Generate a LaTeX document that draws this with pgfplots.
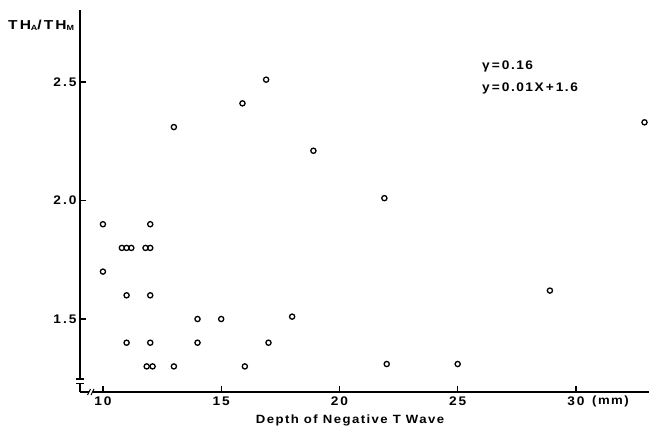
\documentclass[border=0pt]{standalone}
\usepackage{fontspec}
\setmainfont{Liberation Sans}
\newfontfamily\gfont[LetterSpace=12, FakeStretch=1.1]{Liberation Sans}
\newfontfamily\tfont[LetterSpace=16, FakeStretch=1.1]{Liberation Sans}
\newfontfamily\hfont[LetterSpace=16, FakeStretch=1.2]{Liberation Sans}
\usepackage{pgfplots}
\pgfplotsset{compat=1.18}
\begin{document}
\begin{tikzpicture}[x=1bp,y=1bp]
\begin{axis}[
  scale only axis,
  width=569bp, height=382bp,
  xmin=9.03, xmax=33.09,
  ymin=1.192, ymax=2.804,
  axis x line*=bottom, axis y line*=left,
  axis line style={line width=1.8bp, -},
  xtick={10,15,20,25,30},
  ytick={1.5,2.0,2.5},
  yticklabel style={/pgf/number format/fixed, /pgf/number format/fixed zerofill, /pgf/number format/precision=1},
  tick align=inside,
  major tick length=6bp,
  tick style={line width=1.2bp, black},
  /pgf/number format/assume math mode=true,
  ticklabel style={font=\fontsize{12.5}{14}\selectfont\tfont\bfseries},
  xticklabel style={yshift=-1bp},
  clip=false,
]
\addplot[only marks, mark=o, mark size=2.6bp, mark options={line width=1.3bp, black}] coordinates {
(10,1.90) (10,1.70)
(10.8,1.80) (11.0,1.80) (11.2,1.80)
(11,1.60) (11,1.40)
(12,1.90) (11.8,1.80) (12.0,1.80)
(12,1.60) (12,1.40)
(11.85,1.30) (12.1,1.30)
(13,2.31) (13,1.30)
(14,1.50) (14,1.40)
(15,1.50)
(15.9,2.41) (16,1.30)
(16.9,2.51) (17,1.40)
(18,1.51)
(18.9,2.21)
(21.9,2.01) (22,1.31)
(25,1.31)
(28.9,1.62)
(32.9,2.33)
};
\end{axis}
% axis break marks
\fill[white] (-5bp,9bp) rectangle (5bp,13bp);
\draw[line width=1.1bp] (-4bp,8.5bp) -- (4bp,8.5bp);
\draw[line width=1.1bp] (-4bp,13bp) -- (4bp,13bp);
\fill[white] (9bp,-2bp) rectangle (13bp,2bp);
\draw[line width=1bp] (7.5bp,-3bp) -- (10.5bp,3bp);
\draw[line width=1bp] (11bp,-3bp) -- (14bp,3bp);
% labels
\node[anchor=west, font=\fontsize{13}{15}\selectfont\hfont\bfseries, inner sep=0pt] at (-72bp,367bp) {TH\raisebox{-0.1ex}{\fontsize{7.5}{8}\selectfont A}/TH\raisebox{-0.1ex}{\fontsize{7.5}{8}\selectfont M}};
\node[anchor=west, font=\fontsize{12.5}{14}\selectfont\gfont\bfseries, inner sep=0pt] at (402bp,326bp) {γ\,=\,0.16};
\node[anchor=west, font=\fontsize{12.5}{14}\selectfont\gfont\bfseries, inner sep=0pt] at (402bp,304bp) {y\,=\,0.01X\,+\,1.6};
\node[anchor=west, font=\fontsize{12}{14}\selectfont\gfont\bfseries, inner sep=0pt] at (512bp,-9bp) {(mm)};
\node[font=\fontsize{12}{14}\selectfont\gfont\bfseries, inner sep=0pt] at (270bp,-28bp) {Depth\ of\ Negative\ T\ Wave};
\pgfresetboundingbox
\useasboundingbox (-80bp,-37bp) rectangle (569bp,392bp);
\end{tikzpicture}
\end{document}
